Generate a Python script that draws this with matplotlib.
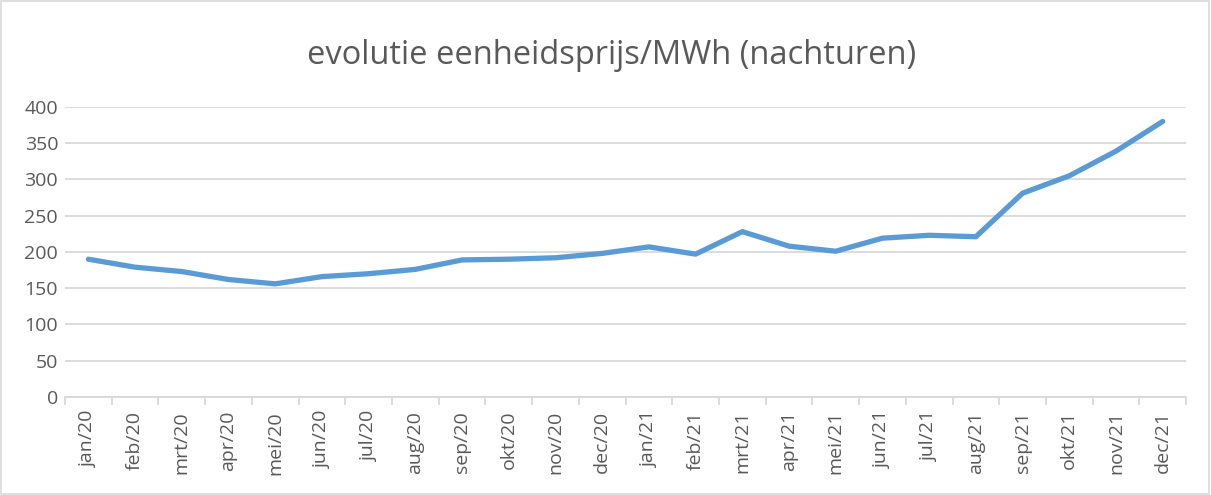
import matplotlib
matplotlib.use("Agg")
import matplotlib.pyplot as plt
from matplotlib.patches import Rectangle
import numpy as np

# Maand-labels en eenheidsprijs per MWh (nachturen)
months = ["jan/20", "feb/20", "mrt/20", "apr/20", "mei/20", "jun/20",
          "jul/20", "aug/20", "sep/20", "okt/20", "nov/20", "dec/20",
          "jan/21", "feb/21", "mrt/21", "apr/21", "mei/21", "jun/21",
          "jul/21", "aug/21", "sep/21", "okt/21", "nov/21", "dec/21"]
prices = [190, 179, 173, 162, 156, 166, 170, 176, 189, 190, 192, 198,
          207, 197, 228, 208, 201, 219, 223, 221, 281, 305, 339, 380]
y_ticks = [0, 50, 100, 150, 200, 250, 300, 350, 400]

TEXT = "#595959"
GRID = "#d9d9d9"
LINE = "#5b9bd5"

plt.rcParams["font.family"] = ["Open Sans", "DejaVu Sans"]

fig = plt.figure(figsize=(12.11, 4.95), dpi=100)
ax = fig.add_axes([0.0537, 0.198, 0.9257, 0.586])

x = np.arange(len(months))
ax.plot(x, prices, color=LINE, linewidth=3.8, solid_capstyle="round",
        solid_joinstyle="round", zorder=3)

ax.set_xlim(-0.5, len(months) - 0.5)
ax.set_ylim(0, 400)
ax.set_yticks(y_ticks)
ax.set_yticklabels([str(v) for v in y_ticks])
ax.set_xticks(x)
ax.set_xticklabels(months, rotation=90)
ax.set_xticks(np.arange(-0.5, len(months)), minor=True)

ax.grid(axis="y", color=GRID, linewidth=1.3, zorder=0)
ax.tick_params(axis="both", which="major", length=0, labelsize=14,
               labelcolor=TEXT)
ax.tick_params(axis="y", pad=5)
ax.tick_params(axis="x", pad=10)
ax.tick_params(axis="x", which="minor", length=6, width=1.3, color=GRID)

for side in ["top", "right", "left"]:
    ax.spines[side].set_visible(False)
ax.spines["bottom"].set_color(GRID)
ax.spines["bottom"].set_linewidth(1.3)

fig.text(0.505, 0.887, "evolutie eenheidsprijs/MWh (nachturen)",
         ha="center", va="center", fontsize=23.5, color=TEXT)

# rand rond het grafiekgebied
fig.patches.append(Rectangle((0.001, 0.002), 0.997, 0.995,
                             transform=fig.transFigure, fill=False,
                             edgecolor=GRID, linewidth=1.2))

fig.savefig("out.png", dpi=100)
